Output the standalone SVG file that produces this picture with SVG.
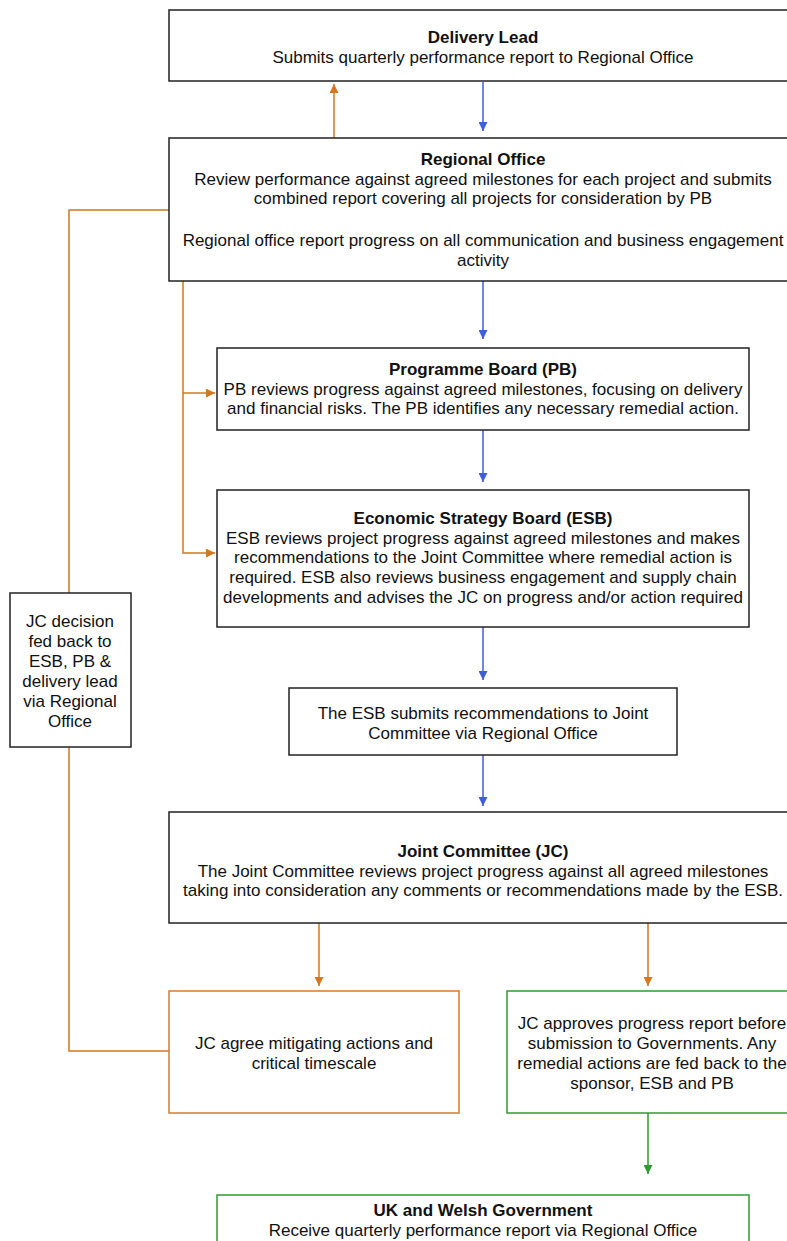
<svg xmlns="http://www.w3.org/2000/svg" width="787" height="1241" viewBox="0 0 787 1241">
<style>
text{font-family:"Liberation Sans",Arial,sans-serif;font-size:17px;fill:#111;text-anchor:middle}
.b{font-weight:bold}
.box{fill:#fff;stroke:#222;stroke-width:1.5}
.obox{fill:#fff;stroke:#d97b2b;stroke-width:1.5}
.gbox{fill:#fff;stroke:#2f9a2f;stroke-width:1.5}
.o{stroke:#d4771f;stroke-width:1.5;fill:none}
.bl{stroke:#3f5fd6;stroke-width:1.5;fill:none}
.g{stroke:#2f9a2f;stroke-width:1.5;fill:none}
</style>
<defs>
<marker id="ao" viewBox="0 0 10 10" refX="10" refY="5" markerWidth="9" markerHeight="9" markerUnits="userSpaceOnUse" orient="auto"><path d="M0,0 L10,5 L0,10 z" fill="#d4771f"/></marker>
<marker id="ab" viewBox="0 0 10 10" refX="10" refY="5" markerWidth="9" markerHeight="9" markerUnits="userSpaceOnUse" orient="auto"><path d="M0,0 L10,5 L0,10 z" fill="#3f5fd6"/></marker>
<marker id="ag" viewBox="0 0 10 10" refX="10" refY="5" markerWidth="9" markerHeight="9" markerUnits="userSpaceOnUse" orient="auto"><path d="M0,0 L10,5 L0,10 z" fill="#2f9a2f"/></marker>
</defs>
<rect width="787" height="1241" fill="#fff"/>
<g id="connectors">
<path class="bl" d="M483,82 V131" marker-end="url(#ab)"/>
<path class="o" d="M334,138 V84" marker-end="url(#ao)"/>
<path class="o" d="M169,210 H69 V593"/>
<path class="o" d="M69,747 V1051 H169"/>
<path class="o" d="M183,281 V553 H215" marker-end="url(#ao)"/>
<path class="o" d="M183,393 H215" marker-end="url(#ao)"/>
<path class="bl" d="M483,281 V339" marker-end="url(#ab)"/>
<path class="bl" d="M483,430 V482" marker-end="url(#ab)"/>
<path class="bl" d="M483,627 V680" marker-end="url(#ab)"/>
<path class="bl" d="M483,755 V806" marker-end="url(#ab)"/>
<path class="o" d="M319,923 V986" marker-end="url(#ao)"/>
<path class="o" d="M648,923 V986" marker-end="url(#ao)"/>
<path class="g" d="M648,1113 V1174" marker-end="url(#ag)"/>
</g>
<g id="delivery-lead">
<rect class="box" x="169" y="10" width="630" height="71"/>
<text x="483" y="43" class="b">Delivery Lead</text>
<text x="483" y="63">Submits quarterly performance report to Regional Office</text>
</g>
<g id="regional-office">
<rect class="box" x="169" y="138" width="630" height="143"/>
<text x="483" y="165" class="b">Regional Office</text>
<text x="483" y="185">Review performance against agreed milestones for each project and submits</text>
<text x="483" y="204">combined report covering all projects for consideration by PB</text>
<text x="483" y="246">Regional office report progress on all communication and business engagement</text>
<text x="483" y="266">activity</text>
</g>
<g id="programme-board">
<rect class="box" x="217" y="348" width="532" height="82"/>
<text x="483" y="375" class="b">Programme Board (PB)</text>
<text x="483" y="395">PB reviews progress against agreed milestones, focusing on delivery</text>
<text x="483" y="414">and financial risks. The PB identifies any necessary remedial action.</text>
</g>
<g id="esb">
<rect class="box" x="217" y="490" width="532" height="137"/>
<text x="483" y="524" class="b">Economic Strategy Board (ESB)</text>
<text x="483" y="544">ESB reviews project progress against agreed milestones and makes</text>
<text x="483" y="563">recommendations to the Joint Committee where remedial action is</text>
<text x="483" y="583">required. ESB also reviews business engagement and supply chain</text>
<text x="483" y="603">developments and advises the JC on progress and/or action required</text>
</g>
<g id="esb-submits">
<rect class="box" x="289" y="688" width="388" height="67"/>
<text x="483" y="719">The ESB submits recommendations to Joint</text>
<text x="483" y="739">Committee via Regional Office</text>
</g>
<g id="jc-feedback">
<rect class="box" x="10" y="593" width="121" height="154"/>
<text x="70" y="627">JC decision</text>
<text x="70" y="647">fed back to</text>
<text x="70" y="667">ESB, PB &amp;</text>
<text x="70" y="687">delivery lead</text>
<text x="70" y="707">via Regional</text>
<text x="70" y="727">Office</text>
</g>
<g id="joint-committee">
<rect class="box" x="169" y="812" width="630" height="111"/>
<text x="483" y="857" class="b">Joint Committee (JC)</text>
<text x="483" y="877">The Joint Committee reviews project progress against all agreed milestones</text>
<text x="483" y="896">taking into consideration any comments or recommendations made by the ESB.</text>
</g>
<g id="jc-agree">
<rect class="obox" x="169" y="991" width="290" height="122"/>
<text x="314" y="1049">JC agree mitigating actions and</text>
<text x="314" y="1069">critical timescale</text>
</g>
<g id="jc-approves">
<rect class="gbox" x="507" y="991" width="290" height="122"/>
<text x="652" y="1029">JC approves progress report before</text>
<text x="652" y="1049">submission to Governments. Any</text>
<text x="652" y="1069">remedial actions are fed back to the</text>
<text x="652" y="1089">sponsor, ESB and PB</text>
</g>
<g id="government">
<rect class="gbox" x="217" y="1195" width="532" height="60"/>
<text x="483" y="1216" class="b">UK and Welsh Government</text>
<text x="483" y="1236">Receive quarterly performance report via Regional Office</text>
</g>
</svg>
